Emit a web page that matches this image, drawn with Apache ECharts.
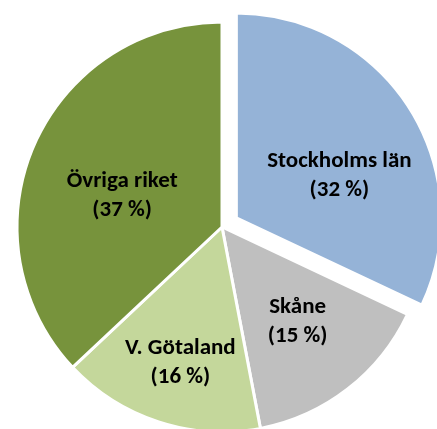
<!DOCTYPE html>
<html>
<head>
<meta charset="utf-8">
<style>
html,body{margin:0;padding:0;background:#fff;}
#chart{width:437px;height:429px;}
</style>
<script src="https://cdn.jsdelivr.net/npm/echarts@6/dist/echarts.min.js"></script>
</head>
<body>
<div id="chart"></div>
<script>
// Data
var categories = ['Stockholms län', 'Skåne', 'V. Götaland', 'Övriga riket'];
var shares = [32, 15, 16, 37];
var colors = ['#95B3D7', '#BFBFBF', '#C4D79B', '#77933C'];
var exploded = [true, false, false, false];
// label nudges relative to ECharts' default inside position (style only)
var labelShift = [[14, 14], [11, 11], [-9, 35], [-3, 11]];

var chart = echarts.init(document.getElementById('chart'), null, {renderer: 'canvas'});
var data = categories.map(function (c, i) {
  return {
    name: c,
    value: shares[i],
    selected: exploded[i],
    itemStyle: {color: colors[i]}
  };
});
chart.setOption({
  animation: false,
  series: [{
    type: 'pie',
    center: [222, 227],
    radius: [0, 205],
    startAngle: 90,
    clockwise: true,
    selectedMode: 'multiple',
    selectedOffset: 17,
    avoidLabelOverlap: false,
    itemStyle: {borderColor: '#ffffff', borderWidth: 3},
    label: {
      show: true,
      position: 'inside',
      formatter: function (p) { return p.name + '\n(' + p.value + ' %)'; },
      fontFamily: 'Carlito, Lato, sans-serif',
      fontWeight: 'bold',
      fontSize: 23,
      lineHeight: 29,
      color: '#000000',
      align: 'center'
    },
    labelLine: {show: false},
    emphasis: {disabled: true},
    select: {disabled: false},
    labelLayout: function (params) {
      var s = labelShift[params.dataIndex];
      return {dx: s[0], dy: s[1]};
    },
    data: data
  }]
});
</script>
</body>
</html>
